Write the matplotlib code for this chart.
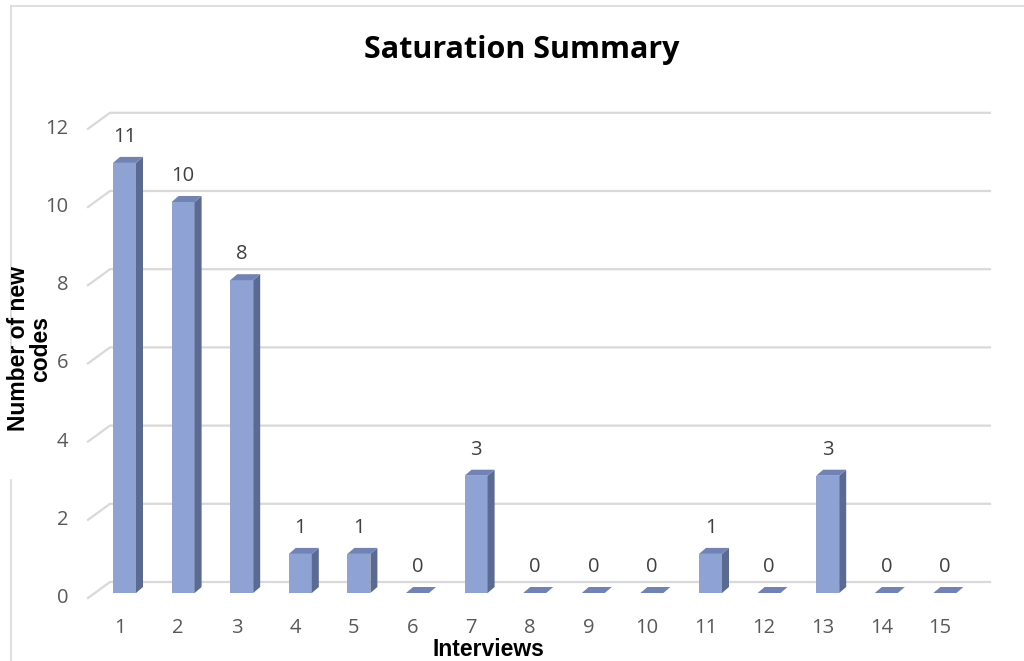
import matplotlib
matplotlib.use("Agg")
from matplotlib import pyplot as plt
from matplotlib.patches import Polygon, Rectangle
from matplotlib.lines import Line2D

# data
interviews = [1, 2, 3, 4, 5, 6, 7, 8, 9, 10, 11, 12, 13, 14, 15]
new_codes = [11, 10, 8, 1, 1, 0, 3, 0, 0, 0, 1, 0, 3, 0, 0]
y_ticks = [0, 2, 4, 6, 8, 10, 12]

W, H = 1024, 661
fig = plt.figure(figsize=(W / 100, H / 100), dpi=100)

# pixel scale of the plot (px per category / px per code)
px_x = 58.6
px_y = 39.1
x0_px = 124.5 - px_x          # pixel of x = 0
y0_px = 593                   # pixel of y = 0 (bar front plane)
xlim = (0, 16)
ylim = (-1.5, 13.5)
left = x0_px / W
width = (xlim[1] - xlim[0]) * px_x / W
bottom = (H - (y0_px - ylim[0] * px_y)) / H
height = (ylim[1] - ylim[0]) * px_y / H
ax = fig.add_axes([left, bottom, width, height])
ax.set_xlim(*xlim)
ax.set_ylim(*ylim)
ax.axis("off")

def dx(p):
    return p / px_x

def dy(p):
    return p / px_y

grid_col = "#d9d9d9"
# back wall gridlines with a short floor diagonal
for t in y_ticks:
    yf = t - dy(5)
    yb = t + dy(11)
    ax.add_line(Line2D([dx(88 - x0_px), dx(110 - x0_px), dx(990 - x0_px)],
                       [yf, yb, yb], color=grid_col, lw=1.6, zorder=1))
    ax.text(dx(68 - x0_px), yf, str(t), ha="right", va="center",
            fontsize=14.5, color="#595959", family="Open Sans")

# 3d looking columns
bw = dx(23)
ox, oy = dx(7), dy(6)
front_col = "#8fa2d4"
side_col = "#5b6a90"
top_col = "#7082b6"
for x, v in zip(interviews, new_codes):
    xl, xr = x - bw / 2, x + bw / 2
    if v > 0:
        ax.add_patch(Rectangle((xl, 0), bw, v, facecolor=front_col,
                               edgecolor="none", zorder=3))
        ax.add_patch(Polygon([(xr, 0), (xr + ox, oy), (xr + ox, v + oy), (xr, v)],
                             closed=True, facecolor=side_col, edgecolor="none", zorder=3))
    ax.add_patch(Polygon([(xl, v), (xr, v), (xr + ox, v + oy), (xl + ox, v + oy)],
                         closed=True, facecolor=top_col, edgecolor="none", zorder=3))
    ax.text(x, v + dy(26), str(v), ha="center", va="center",
            fontsize=14.5, color="#404040", family="Open Sans")
    ax.text(x - dx(5), -dy(35), str(x), ha="center", va="center",
            fontsize=14.5, color="#595959", family="Open Sans")

# chart border
fig.add_artist(Line2D([11 / W, 1], [1 - 6 / H, 1 - 6 / H], color=grid_col, lw=1.2))
fig.add_artist(Line2D([11 / W, 11 / W], [1 - 6 / H, 1 - 355 / H], color=grid_col, lw=1.2))
fig.add_artist(Line2D([11 / W, 11 / W], [1 - 480 / H, 0], color=grid_col, lw=1.2))

fig.text(522 / W, 1 - 50 / H, "Saturation Summary", ha="center", va="center",
         fontsize=22, fontweight="bold", family="Open Sans", color="black")
fig.text(30 / W, 1 - 349 / H, "Number of new\ncodes", ha="center", va="center",
         rotation=90, fontsize=16.5, fontweight="bold", family="Liberation Sans",
         linespacing=0.95)
fig.text(488 / W, 1 - 649 / H, "Interviews", ha="center", va="center",
         fontsize=16.5, fontweight="bold", family="Liberation Sans")

fig.savefig("out.png", dpi=100)
